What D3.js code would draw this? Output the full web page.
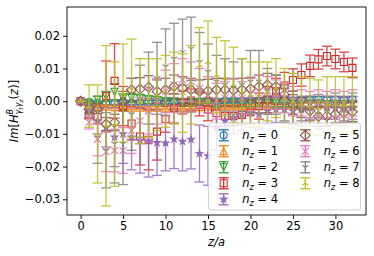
<!DOCTYPE html>
<html>
<head>
<meta charset="utf-8">
<script src="https://cdn.jsdelivr.net/npm/d3@7"></script>
<style>
  body { margin: 0; background: #fff; }
  text { font-family: "DejaVu Sans", sans-serif; fill: #000; }
</style>
</head>
<body>
<div id="chart"></div>
<script>
// z/a positions
const zPos = [0,1,2,3,4,5,6,7,8,9,10,11,12,13,14,15,16,17,18,19,20,21,22,23,24,25,26,27,28,29,30,31,32];

// Im[H] values per n_z, in units of 1e-3, with their errors (also 1e-3)
const val_nz0 = [0,-0.3,-0.5,-0.6,-0.5,-0.4,-0.5,-0.4,-0.3,-0.3,-0.2,-0.2,-0.1,-0.1,0,0.1,0,0.1,0.2,0.1,0.2,0.2,0.3,0.3,0.4,0.3,0.4,0.4,0.5,0.4,0.5,0.4,0.5];
const err_nz0 = [0,0.3,0.4,0.5,0.5,0.5,0.6,0.6,0.6,0.6,0.6,0.6,0.6,0.6,0.7,0.7,0.7,0.7,0.7,0.7,0.7,0.8,0.8,0.8,0.8,0.8,0.8,0.9,0.9,0.9,0.9,0.9,0.9];
const val_nz1 = [0,-0.8,-1.3,-1.6,-1.8,-1.9,-2.0,-2.0,-2.0,-2.0,-2.0,-1.9,-1.9,-1.8,-1.8,-1.7,-1.7,-1.6,-1.6,-1.5,-1.5,-1.4,-1.4,-1.3,-1.3,-1.2,-1.2,-1.1,-1.1,-1.0,-1.0,-1.0,-0.9];
const err_nz1 = [0,0.2,0.3,0.3,0.3,0.4,0.4,0.4,0.4,0.4,0.4,0.4,0.5,0.5,0.5,0.5,0.5,0.5,0.5,0.5,0.5,0.5,0.6,0.6,0.6,0.6,0.6,0.6,0.6,0.6,0.6,0.6,0.6];
const val_nz2 = [0,-0.5,0.5,1.5,2.9,0.8,1.0,0.8,0.5,0.2,0,-0.3,-0.5,-0.5,-0.3,-0.4,-0.6,-0.5,-0.6,-0.7,-0.6,-0.5,-0.6,-0.7,-0.6,-0.7,-0.8,-0.7,-0.8,-0.9,-0.8,-0.9,-0.8];
const err_nz2 = [0,0.6,1.0,1.5,2.4,1.5,1.4,1.3,1.2,1.2,1.1,1.1,1.1,1.0,1.0,1.0,1.0,1.0,1.0,1.0,1.0,1.0,1.0,1.0,1.0,1.0,1.0,1.0,1.0,1.0,1.0,1.0,1.0];
const val_nz3 = [0,-3.9,-4.9,1.6,6.2,-1.5,-6.8,-10.8,-11.8,-9.3,-5.5,-2.2,-0.4,0.2,-1.0,-2.5,-3.7,-4.5,-4.5,-4.2,-3.4,-1.5,0.5,3.0,4.8,6.5,8.0,10.8,12.8,13.8,12.9,12.0,10.2];
const err_nz3 = [0,1.5,2.0,10.7,11.4,6.0,5.0,8.7,9.2,8.7,4.0,4.5,3.5,3.5,3.5,3.5,4.0,3.0,3.0,3.0,3.5,4.0,4.0,4.0,4.0,3.4,3.4,3.3,3.0,3.0,3.0,3.0,3.0];
const val_nz4 = [0,-3.0,-6.0,-8.0,-11.0,-10.0,-11.0,-12.0,-12.2,-12.7,-12.8,-11.6,-12.3,-11.7,-16.0,-16.7,-8.0,-6.0,-5.0,-4.0,-3.5,-4.0,-3.0,-2.5,-2.5,-3.0,-2.5,-2.0,-1.5,-2.0,-2.0,-2.5,-2.0];
const err_nz4 = [0,2.0,4.0,6.0,9.0,9.0,10.0,10.0,11.0,10.0,8.5,9.0,9.0,9.0,8.7,9.0,7.0,6.0,5.0,5.0,4.5,4.5,4.0,4.0,4.0,4.0,3.5,3.5,3.5,3.5,3.5,3.5,3.5];
const val_nz5 = [0,-2.5,-2.2,-7.0,-6.5,0,3.5,3.7,4.3,3.0,3.5,4.5,4.0,3.5,3.0,3.2,3.5,3.5,3.3,3.5,3.8,4.5,5.0,4.5,2.0,-1.0,-2.0,-3.0,-4.7,-4.5,-4.0,-3.5,-3.2];
const err_nz5 = [0,1.0,1.5,2.0,2.5,3.0,3.5,3.5,3.5,3.5,3.5,3.5,3.5,3.5,3.5,3.5,3.5,3.5,3.5,3.5,3.5,3.5,3.5,3.5,3.0,3.0,3.0,3.0,3.0,3.0,3.0,3.0,3.0];
const val_nz6 = [0,-6.5,-11.7,-15.5,-15.1,-15.1,-9.0,-6.0,-3.0,0.0,3.0,5.0,6.5,6.0,4.0,2.0,0.0,1.0,2.0,1.0,2.0,3.0,3.0,2.0,1.0,0.0,-0.5,-1.0,-0.5,-1.0,-0.5,-1.0,-0.5];
const err_nz6 = [0,2.0,5.0,6.0,6.5,7.0,7.0,7.0,7.0,7.0,6.5,6.5,6.5,6.0,6.0,5.5,5.5,5.0,5.0,5.0,5.0,5.0,4.5,4.5,4.5,4.5,4.0,4.0,4.0,4.0,4.0,4.0,4.0];
const val_nz7 = [0,-2.0,-11.0,-15.0,-13.0,-13.0,-4.0,0.0,4.0,7.0,10.6,13.0,15.0,16.0,12.0,9.0,6.0,5.0,4.0,5.0,6.0,6.0,3.0,2.0,-1.0,-2.0,-3.0,-3.0,-4.0,-3.0,-2.0,-3.0,-2.0];
const err_nz7 = [0,2.0,8.0,11.5,12.0,12.5,11.0,11.0,11.0,11.0,11.5,10.8,10.1,9.7,9.0,8.5,8.0,8.0,8.0,8.0,9.5,9.5,7.0,6.0,5.0,5.0,4.5,4.5,4.5,4.5,4.5,4.5,4.5];
const val_nz8 = [0,-1.5,-10.0,-7.5,-7.0,2.5,4.0,0.0,1.0,2.0,3.0,4.0,2.5,5.0,11.0,12.0,8.0,7.0,5.0,3.0,2.0,2.0,3.0,4.0,1.0,0.0,-1.0,-1.5,-2.0,-1.0,-1.0,-1.0,-1.0];
const err_nz8 = [0,6.5,15.0,24.5,19.0,15.0,15.0,13.0,12.0,11.0,11.0,11.0,12.0,12.0,11.5,12.5,11.5,11.5,11.5,10.0,10.0,10.0,9.0,9.0,9.0,8.5,8.5,8.5,8.5,8.5,8.5,8.5,8.5];

const labels = ["0","1","2","3","4","5","6","7","8"];
const colors = ["#1f77b4","#ff7f0e","#2ca02c","#d62728","#9467bd","#8c564b","#e377c2","#7f7f7f","#bcbd22"];
const markers = ["o","^","v","s","*","D","x","1","2"];
const xTicks = [0,5,10,15,20,25,30];
const yTicks = [-0.03,-0.02,-0.01,0.00,0.01,0.02];

const allVals = [val_nz0,val_nz1,val_nz2,val_nz3,val_nz4,val_nz5,val_nz6,val_nz7,val_nz8];
const allErrs = [err_nz0,err_nz1,err_nz2,err_nz3,err_nz4,err_nz5,err_nz6,err_nz7,err_nz8];

const series = labels.map((lab, i) => ({
  label: lab, color: colors[i], marker: markers[i],
  points: zPos.map((z, j) => ({z: z, v: allVals[i][j] * 1e-3, e: allErrs[i][j] * 1e-3}))
}));

const W = 374, H = 256;
const plot = {left: 67, right: 366, top: 7, bottom: 215};

const svg = d3.select("#chart").append("svg")
  .attr("width", W).attr("height", H);

const x = d3.scaleLinear().domain([-1.6, 33.6]).range([plot.left, plot.right]);
const y = d3.scaleLinear().domain([-0.0348, 0.0288]).range([plot.bottom, plot.top]);

// marker shapes, s = marker size in px
function markerPath(type, s) {
  const r = s / 2, p = d3.path();
  if (type === "o") { p.moveTo(r, 0); p.arc(0, 0, r, 0, 2 * Math.PI); p.closePath(); }
  else if (type === "^") { p.moveTo(0, -r); p.lineTo(r, r); p.lineTo(-r, r); p.closePath(); }
  else if (type === "v") { p.moveTo(0, r); p.lineTo(r, -r); p.lineTo(-r, -r); p.closePath(); }
  else if (type === "s") { p.rect(-r, -r, s, s); }
  else if (type === "D") { const d = r * Math.SQRT2; p.moveTo(0, -d); p.lineTo(d, 0); p.lineTo(0, d); p.lineTo(-d, 0); p.closePath(); }
  else if (type === "*") {
    const inner = r * 0.382;
    for (let k = 0; k < 10; k++) {
      const rr = k % 2 ? inner : r, a = -Math.PI / 2 + k * Math.PI / 5;
      if (k === 0) p.moveTo(rr * Math.cos(a), rr * Math.sin(a)); else p.lineTo(rr * Math.cos(a), rr * Math.sin(a));
    }
    p.closePath();
  }
  else if (type === "x") { p.moveTo(-r, -r); p.lineTo(r, r); p.moveTo(-r, r); p.lineTo(r, -r); }
  else if (type === "1") { // tri_down
    p.moveTo(0, 0); p.lineTo(0, r); p.moveTo(0, 0); p.lineTo(-r * 0.866, -r / 2); p.moveTo(0, 0); p.lineTo(r * 0.866, -r / 2);
  }
  else if (type === "2") { // tri_up
    p.moveTo(0, 0); p.lineTo(0, -r); p.moveTo(0, 0); p.lineTo(-r * 0.866, r / 2); p.moveTo(0, 0); p.lineTo(r * 0.866, r / 2);
  }
  return p.toString();
}
function markerFill(s) { return s.marker === "*" ? s.color : "none"; }

const msize = 7, cap = 5;

// data: error bars then markers, one series after the other
const dataG = svg.append("g");
series.forEach(s => {
  const g = dataG.append("g").attr("class", "series");
  const bars = g.selectAll(".bar").data(s.points).enter().append("g")
    .attr("stroke", s.color).attr("stroke-width", 1.3).attr("opacity", 0.85);
  bars.append("line")
    .attr("x1", d => x(d.z)).attr("x2", d => x(d.z))
    .attr("y1", d => y(d.v - d.e)).attr("y2", d => y(d.v + d.e));
  bars.append("line")
    .attr("x1", d => x(d.z) - cap).attr("x2", d => x(d.z) + cap)
    .attr("y1", d => y(d.v + d.e)).attr("y2", d => y(d.v + d.e));
  bars.append("line")
    .attr("x1", d => x(d.z) - cap).attr("x2", d => x(d.z) + cap)
    .attr("y1", d => y(d.v - d.e)).attr("y2", d => y(d.v - d.e));
  g.selectAll(".mk").data(s.points).enter().append("path")
    .attr("transform", d => "translate(" + x(d.z) + "," + y(d.v) + ")")
    .attr("d", markerPath(s.marker, msize))
    .attr("fill", markerFill(s))
    .attr("stroke", s.color).attr("stroke-width", 1.1);
});

// axes
const xAxis = svg.append("g").attr("transform", "translate(0," + plot.bottom + ")")
  .call(d3.axisBottom(x).tickValues(xTicks).tickSize(4).tickPadding(3).tickFormat(d3.format("d")));
const yAxis = svg.append("g").attr("transform", "translate(" + plot.left + ",0)")
  .call(d3.axisLeft(y).tickValues(yTicks).tickSize(4).tickPadding(3)
    .tickFormat(d => d3.format(".2f")(d).replace("-", "\u2212")));
[xAxis, yAxis].forEach(a => {
  a.select(".domain").remove();
  a.selectAll("line").attr("stroke", "#000").attr("stroke-width", 0.9);
  a.selectAll("text").attr("font-size", "11.5px").attr("font-family", "DejaVu Sans");
});

svg.append("rect")
  .attr("x", plot.left).attr("y", plot.top)
  .attr("width", plot.right - plot.left).attr("height", plot.bottom - plot.top)
  .attr("fill", "none").attr("stroke", "#000").attr("stroke-width", 0.9);

// axis labels
svg.append("text")
  .attr("x", (plot.left + plot.right) / 2).attr("y", 246)
  .attr("text-anchor", "middle").attr("font-size", "11.5px").attr("font-style", "italic")
  .text("z/a");

const yl = svg.append("text")
  .attr("transform", "translate(18," + ((plot.top + plot.bottom) / 2) + ") rotate(-90)")
  .attr("text-anchor", "middle").attr("font-size", "11.5px");
yl.append("tspan").attr("font-style", "italic").text("Im");
yl.append("tspan").text("[");
yl.append("tspan").attr("font-style", "italic").text("H");
yl.append("tspan").attr("font-style", "italic").attr("font-size", "8px").attr("dy", -5).text("B");
yl.append("tspan").attr("font-style", "italic").attr("font-size", "8px").attr("dx", -5.5).attr("dy", 8).text("\u03b3");
yl.append("tspan").attr("font-style", "italic").attr("font-size", "6px").attr("dy", 1.5).text("t");
yl.append("tspan").attr("font-style", "italic").attr("font-size", "8px").attr("dy", -1.5).text("\u03b3");
yl.append("tspan").attr("font-style", "italic").attr("font-size", "6px").attr("dy", 1.5).text("z");
yl.append("tspan").attr("dy", -4.5).text("(");
yl.append("tspan").attr("font-style", "italic").text("z");
yl.append("tspan").text(")]");

// legend, two columns
const legend = svg.append("g");
legend.append("rect")
  .attr("x", 208.5).attr("y", 123).attr("width", 152).attr("height", 87).attr("rx", 2.5)
  .attr("fill", "#fff").attr("fill-opacity", 0.8)
  .attr("stroke", "#cccccc").attr("stroke-width", 0.9);

const items = legend.selectAll(".item").data(series).enter().append("g")
  .attr("transform", (d, i) => {
    const col = i < 5 ? 0 : 1, row = i < 5 ? i : i - 5;
    return "translate(" + (col ? 305.3 : 223.7) + "," + (135.3 + row * 16) + ")";
  });
items.append("line").attr("x1", 0).attr("x2", 0).attr("y1", -5.5).attr("y2", 5.5)
  .attr("stroke", d => d.color).attr("stroke-width", 1.3);
items.append("line").attr("x1", -cap).attr("x2", cap).attr("y1", -5.5).attr("y2", -5.5)
  .attr("stroke", d => d.color).attr("stroke-width", 1.3);
items.append("line").attr("x1", -cap).attr("x2", cap).attr("y1", 5.5).attr("y2", 5.5)
  .attr("stroke", d => d.color).attr("stroke-width", 1.3);
items.append("path").attr("d", d => markerPath(d.marker, msize))
  .attr("fill", d => markerFill(d)).attr("stroke", d => d.color).attr("stroke-width", 1.1);

const lt = items.append("text").attr("x", 18.5).attr("y", 4).attr("font-size", "11.5px");
lt.append("tspan").attr("font-style", "italic").text("n");
lt.append("tspan").attr("font-style", "italic").attr("font-size", "8px").attr("dy", 2.5).text("z");
lt.append("tspan").attr("dy", -2.5).text(" = ");
lt.append("tspan").text(d => d.label);
</script>
</body>
</html>
